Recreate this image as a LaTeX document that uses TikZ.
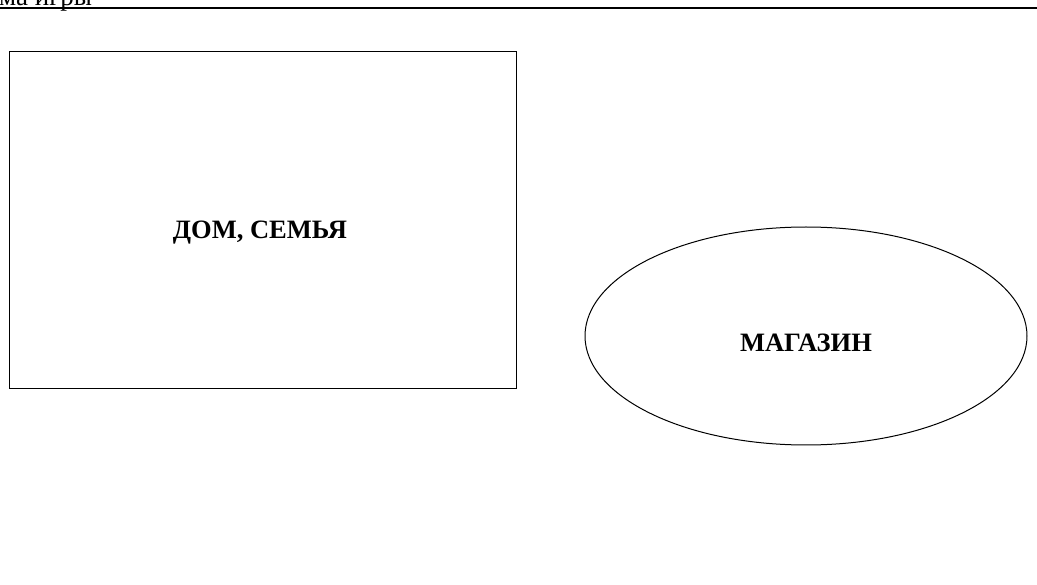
\documentclass[tikz,border=0pt]{standalone}
\usepackage{fontspec}
\setmainfont{Liberation Serif}
\usetikzlibrary{shapes.geometric}
\begin{document}
\begin{tikzpicture}[x=1pt,y=-1pt,
  lbl/.style={font=\fontsize{26.5}{30}\selectfont\bfseries},
  box/.style={draw, line width=1pt, inner sep=0pt},
]
\useasboundingbox (0,0) rectangle (1037,585);
\node[anchor=base west, inner sep=0pt, font=\fontsize{27}{30}\selectfont] (title) at (-1,6) {ма игры};
\coordinate (tl) at (0,8);
\coordinate (tr) at (1037,8);
\draw[line width=1.2pt] (tl) -- (tr);
\node[box, rectangle, minimum width=507pt, minimum height=337pt] (home) at (262.5,220.5) {};
\node[lbl] (homelbl) at (260,233) {ДОМ, СЕМЬЯ};
\node[box, ellipse, minimum width=442pt, minimum height=218pt] (shop) at (806,336) {};
\node[lbl] (shoplbl) at (806,343) {МАГАЗИН};
\end{tikzpicture}
\end{document}
